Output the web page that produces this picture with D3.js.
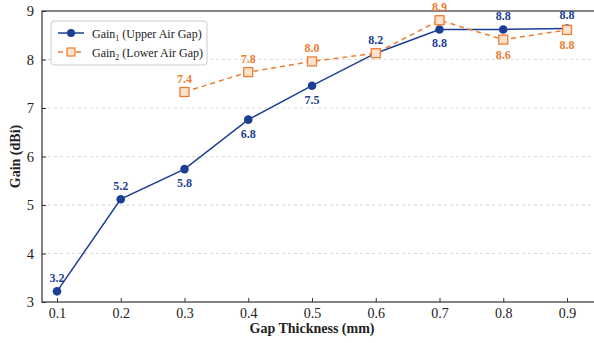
<html>
<head>
<script src="https://d3js.org/d3.v7.min.js"></script>
<style>
body { margin: 0; background: #fff; }
</style>
</head>
<body>
<svg id="chart" width="594" height="343"></svg>
<script>
// data
const gaps = [0.1, 0.2, 0.3, 0.4, 0.5, 0.6, 0.7, 0.8, 0.9];
const gain1 = [3.22, 5.12, 5.74, 6.76, 7.46, 8.13, 8.62, 8.62, 8.64];
const gain1Labels = ["3.2", "5.2", "5.8", "6.8", "7.5", "8.2", "8.8", "8.8", "8.8"];
const gain1Above = [true, true, false, false, false, true, false, true, true];
const gaps2 = [0.3, 0.4, 0.5, 0.6, 0.7, 0.8, 0.9];
const gain2 = [7.33, 7.74, 7.96, 8.13, 8.81, 8.41, 8.61];
const gain2Labels = ["7.4", "7.8", "8.0", "", "8.9", "8.6", "8.8"];
const gain2Above = [true, true, true, true, true, false, false];
const yTicks = [3, 4, 5, 6, 7, 8, 9];

const blue = "#1c3f94", orange = "#ee7d31";
const serif = "'Liberation Serif', 'Times New Roman', Times, serif";
const pLeft = 42, pRight = 595, pTop = 11, pBottom = 302;

const svg = d3.select("#chart").attr("font-family", serif);

const x = d3.scaleLinear().domain([0.1, 0.9]).range([57, 567]);
const y = d3.scaleLinear().domain([3, 9]).range([pBottom, pTop]);

// grid lines
svg.append("g")
  .selectAll("line")
  .data(yTicks.slice(1, -1))
  .enter().append("line")
  .attr("x1", pLeft).attr("x2", pRight)
  .attr("y1", d => y(d)).attr("y2", d => y(d))
  .attr("stroke", "#d8d8d8")
  .attr("stroke-dasharray", "3,3")
  .attr("stroke-width", 1);

// axes (ticks pointing inward)
const xAxis = d3.axisBottom(x).tickValues(gaps).tickSize(-4).tickPadding(6).tickFormat(d3.format(".1f"));
const gx = svg.append("g").attr("transform", "translate(0," + pBottom + ")").call(xAxis);
gx.select(".domain").remove();
gx.attr("font-family", serif);
gx.selectAll("text").attr("font-size", 14).attr("fill", "#222");
gx.selectAll("line").attr("stroke", "#333");

const yAxis = d3.axisLeft(y).tickValues(yTicks).tickSize(-4).tickPadding(8).tickFormat(d3.format("d"));
const gy = svg.append("g").attr("transform", "translate(" + pLeft + ",0)").call(yAxis);
gy.select(".domain").remove();
gy.attr("font-family", serif);
gy.selectAll("text").attr("font-size", 14.5).attr("fill", "#222");
gy.selectAll("line").attr("stroke", "#333");

// frame
svg.append("rect")
  .attr("x", pLeft).attr("y", pTop)
  .attr("width", pRight - pLeft).attr("height", pBottom - pTop)
  .attr("fill", "none").attr("stroke", "#333").attr("stroke-width", 1.2);

// lines
const line = d3.line().x(d => x(d[0])).y(d => y(d[1]));
const pts1 = gaps.map((g, i) => [g, gain1[i]]);
const pts2 = gaps2.map((g, i) => [g, gain2[i]]);

svg.append("path").datum(pts1)
  .attr("d", line).attr("fill", "none")
  .attr("stroke", blue).attr("stroke-width", 1.5);

svg.append("path").datum(pts2)
  .attr("d", line).attr("fill", "none")
  .attr("stroke", orange).attr("stroke-width", 1.5)
  .attr("stroke-dasharray", "5,4");

svg.append("g").selectAll("circle")
  .data(pts1).enter().append("circle")
  .attr("cx", d => x(d[0])).attr("cy", d => y(d[1]))
  .attr("r", 4.3).attr("fill", blue);

svg.append("g").selectAll("rect")
  .data(pts2).enter().append("rect")
  .attr("x", d => x(d[0]) - 4.5).attr("y", d => y(d[1]) - 4.5)
  .attr("width", 9).attr("height", 9)
  .attr("fill", "#fde3cc").attr("stroke", orange).attr("stroke-width", 1.3);

// value labels
svg.append("g").selectAll("text")
  .data(pts1).enter().append("text")
  .attr("x", d => x(d[0]))
  .attr("y", (d, i) => gain1Above[i] ? y(d[1]) - 9 : y(d[1]) + 18)
  .attr("text-anchor", "middle")
  .attr("font-size", 12).attr("font-weight", "bold")
  .attr("fill", blue)
  .text((d, i) => gain1Labels[i]);

svg.append("g").selectAll("text")
  .data(pts2).enter().append("text")
  .attr("x", d => x(d[0]))
  .attr("y", (d, i) => gain2Above[i] ? y(d[1]) - 9 : y(d[1]) + 19)
  .attr("text-anchor", "middle")
  .attr("font-size", 12).attr("font-weight", "bold")
  .attr("fill", orange)
  .text((d, i) => gain2Labels[i]);

// axis titles
svg.append("text")
  .attr("x", 312).attr("y", 333)
  .attr("text-anchor", "middle")
  .attr("font-size", 14).attr("font-weight", "bold").attr("fill", "#222")
  .text("Gap Thickness (mm)");

svg.append("text")
  .attr("transform", "translate(20," + ((pTop + pBottom) / 2) + ") rotate(-90)")
  .attr("text-anchor", "middle")
  .attr("font-size", 14).attr("font-weight", "bold").attr("fill", "#222")
  .text("Gain (dBi)");

// legend
const legend = svg.append("g").attr("transform", "translate(51,21)");
legend.append("rect")
  .attr("width", 156).attr("height", 44).attr("rx", 3)
  .attr("fill", "#fff").attr("fill-opacity", 0.9)
  .attr("stroke", "#ccc");

const items = [
  { name: "Gain", sub: "1", desc: " (Upper Air Gap)", color: blue, dash: null, marker: "circle" },
  { name: "Gain", sub: "2", desc: " (Lower Air Gap)", color: orange, dash: "5,4", marker: "square" }
];
const rows = legend.selectAll(".item").data(items).enter().append("g")
  .attr("class", "item")
  .attr("transform", (d, i) => "translate(0," + (12 + i * 19) + ")");

rows.append("line")
  .attr("x1", 7).attr("x2", 33)
  .attr("stroke", d => d.color).attr("stroke-width", 1.5)
  .attr("stroke-dasharray", d => d.dash);

rows.filter(d => d.marker === "circle").append("circle")
  .attr("cx", 20).attr("r", 4).attr("fill", d => d.color);
rows.filter(d => d.marker === "square").append("rect")
  .attr("x", 16).attr("y", -4).attr("width", 8).attr("height", 8)
  .attr("fill", "#fde3cc").attr("stroke", d => d.color).attr("stroke-width", 1.2);

const lt = rows.append("text")
  .attr("x", 41).attr("y", 4.5)
  .attr("font-size", 12).attr("fill", "#222");
lt.append("tspan").text(d => d.name);
lt.append("tspan").attr("font-size", 8).attr("dy", 3).text(d => d.sub);
lt.append("tspan").attr("dy", -3).text(d => d.desc);
</script>
</body>
</html>
